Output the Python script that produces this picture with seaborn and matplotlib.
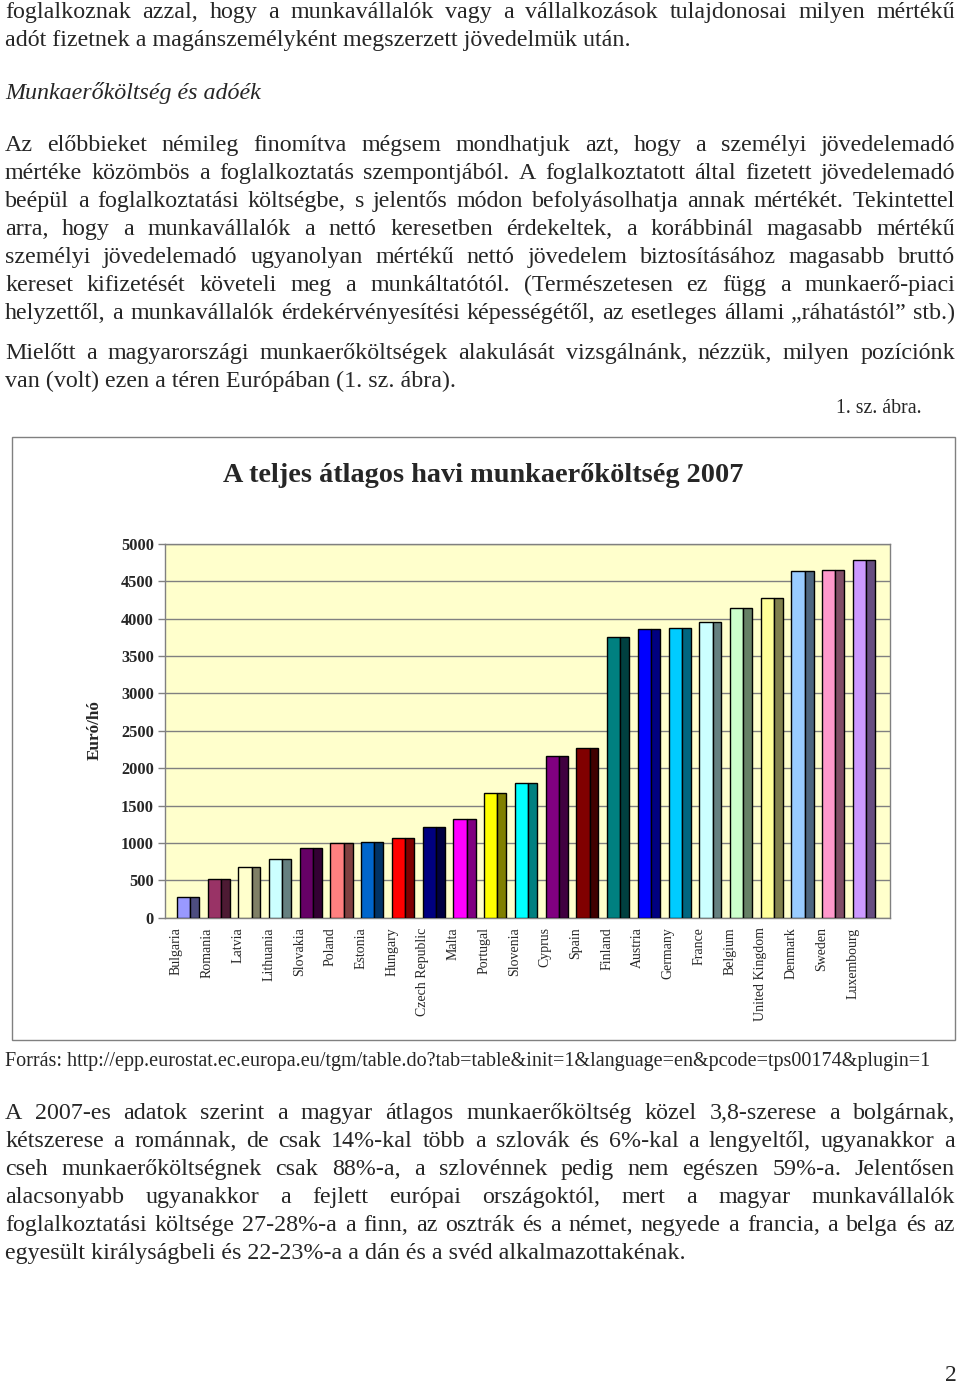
import numpy as np
import matplotlib
matplotlib.use("Agg")
import matplotlib.pyplot as plt
from matplotlib.transforms import ScaledTranslation
from matplotlib.patches import Rectangle
import seaborn as sns

countries = ['Bulgaria', 'Romania', 'Latvia', 'Lithuania', 'Slovakia', 'Poland',
             'Estonia', 'Hungary', 'Czech Republic', 'Malta', 'Portugal', 'Slovenia',
             'Cyprus', 'Spain', 'Finland', 'Austria', 'Germany', 'France', 'Belgium',
             'United Kingdom', 'Denmark', 'Sweden', 'Luxembourg']
costs = [280, 515, 680, 790, 935, 1000, 1010, 1060, 1210, 1325, 1675, 1800,
         2165, 2270, 3760, 3860, 3870, 3960, 4140, 4280, 4640, 4650, 4780]
colors = ['#9999FF', '#993366', '#FFFFCC', '#CCFFFF', '#660066', '#FF8080',
          '#0066CC', '#FF0000', '#000080', '#FF00FF', '#FFFF00', '#00FFFF',
          '#800080', '#800000', '#008080', '#0000FF', '#00CCFF', '#CCFFFF',
          '#CCFFCC', '#FFFF99', '#99CCFF', '#FF99CC', '#CC99FF']
yticks = [0, 500, 1000, 1500, 2000, 2500, 3000, 3500, 4000, 4500, 5000]

title = 'A teljes átlagos havi munkaerőköltség 2007'
ylabel = 'Euró/hó'

top_lines = [
    ('foglalkoznak azzal, hogy a munkavállalók vagy a vállalkozások tulajdonosai milyen mértékű', 18, True, 'normal'),
    ('adót fizetnek a magánszemélyként megszerzett jövedelmük után.', 46, False, 'normal'),
    ('Munkaerőköltség és adóék', 99, False, 'italic'),
    ('Az előbbieket némileg finomítva mégsem mondhatjuk azt, hogy a személyi jövedelemadó', 151, True, 'normal'),
    ('mértéke közömbös a foglalkoztatás szempontjából. A foglalkoztatott által fizetett jövedelemadó', 179, True, 'normal'),
    ('beépül a foglalkoztatási költségbe, s jelentős módon befolyásolhatja annak mértékét. Tekintettel', 207, True, 'normal'),
    ('arra, hogy a munkavállalók a nettó keresetben érdekeltek, a korábbinál magasabb mértékű', 235, True, 'normal'),
    ('személyi jövedelemadó ugyanolyan mértékű nettó jövedelem biztosításához magasabb bruttó', 263, True, 'normal'),
    ('kereset kifizetését követeli meg a munkáltatótól. (Természetesen ez függ a munkaerő-piaci', 291, True, 'normal'),
    ('helyzettől, a munkavállalók érdekérvényesítési képességétől, az esetleges állami „ráhatástól” stb.)', 319, True, 'normal'),
    ('Mielőtt a magyarországi munkaerőköltségek alakulását vizsgálnánk, nézzük, milyen pozíciónk', 359, True, 'normal'),
    ('van (volt) ezen a téren Európában (1. sz. ábra).', 387, False, 'normal'),
]
bottom_lines = [
    ('A 2007-es adatok szerint a magyar átlagos munkaerőköltség közel 3,8-szerese a bolgárnak,', 1119, True),
    ('kétszerese a románnak, de csak 14%-kal több a szlovák és 6%-kal a lengyeltől, ugyanakkor a', 1147, True),
    ('cseh munkaerőköltségnek csak 88%-a, a szlovénnek pedig nem egészen 59%-a. Jelentősen', 1175, True),
    ('alacsonyabb ugyanakkor a fejlett európai országoktól, mert a magyar munkavállalók', 1203, True),
    ('foglalkoztatási költsége 27-28%-a a finn, az osztrák és a német, negyede a francia, a belga és az', 1231, True),
    ('egyesült királyságbeli és 22-23%-a a dán és a svéd alkalmazottakénak.', 1259, False),
]
source = 'Forrás: http://epp.eurostat.ec.europa.eu/tgm/table.do?tab=table&init=1&language=en&pcode=tps00174&plugin=1'

W, H = 960, 1384
BODY = 17.3

sns.set_theme(style='white')
plt.rcParams['font.family'] = ['Liberation Serif', 'DejaVu Serif']

fig = plt.figure(figsize=(W / 100, H / 100), dpi=100)
fig.patch.set_facecolor('white')
renderer = fig.canvas.get_renderer()


def px(x):
    return x / W


def py(y):
    return 1 - y / H


def put_line(text, y, justify, style='normal', x0=5, x1=955, size=BODY):
    if not justify:
        fig.text(px(x0), py(y), text, fontsize=size, style=style, va='baseline', ha='left')
        return
    words = text.split(' ')
    objs = [fig.text(0, py(y), w, fontsize=size, style=style, va='baseline', ha='left') for w in words]
    widths = [o.get_window_extent(renderer).width for o in objs]
    gap = (x1 - x0 - sum(widths)) / (len(words) - 1)
    x = x0
    for o, w in zip(objs, widths):
        o.set_x(px(x))
        x += w + gap


for text, y, j, st in top_lines:
    put_line(text, y, j, st)
fig.text(px(922), py(413), '1. sz. ábra.', fontsize=14.3, ha='right', va='baseline')

# chart frame
fig.patches.append(Rectangle((px(12), py(1040)), px(955) - px(12), py(437) - py(1040),
                             transform=fig.transFigure, fill=False, edgecolor='#808080', linewidth=1))
fig.text(px(483), py(475), title, fontsize=20.3, fontweight='bold', ha='center', va='center')

ax = fig.add_axes([px(165), py(917.7), px(890) - px(165), py(544) - py(917.7)])
ax.set_facecolor('#FFFFCC')

front_w, side_w = 0.43, 0.29
sns.barplot(x=countries, y=costs, hue=countries, palette=colors, width=front_w,
            saturation=1, edgecolor='black', linewidth=1, legend=False, ax=ax, zorder=3)
side_colors = [tuple(np.array(matplotlib.colors.to_rgb(c)) * 0.5) for c in colors]
xs = np.arange(len(countries))
ax.bar(xs + front_w / 2 + side_w / 2, costs, width=side_w, color=side_colors,
       edgecolor='black', linewidth=1, zorder=3)

ax.set_xlim(-0.6, 22.99)
ax.set_ylim(0, 5000)
ax.set_yticks(yticks)
ax.set_yticklabels([str(v) for v in yticks], fontsize=11.8, fontweight='bold')
ax.yaxis.grid(True, color='#808080', linewidth=1, zorder=0)
ax.set_axisbelow(True)
ax.tick_params(axis='y', length=5, width=1, color='#808080', pad=3, left=True)
ax.tick_params(axis='x', length=0, pad=7)
ax.set_xticks(xs)
ax.set_xticklabels(countries, rotation=90, fontsize=10, va='top', ha='center')
shift = ScaledTranslation(-7 / 100, 0, fig.dpi_scale_trans)
for lab in ax.get_xticklabels():
    lab.set_transform(lab.get_transform() + shift)
ax.set_xlabel('')
ax.set_ylabel('')
for s in ax.spines.values():
    s.set_color('#808080')
    s.set_linewidth(1)
fig.text(px(95), py(730), ylabel, fontsize=12.3, fontweight='bold', rotation=90, ha='center', va='center')

fig.text(px(5), py(1066), source, fontsize=14.5, ha='left', va='baseline')
for text, y, j in bottom_lines:
    put_line(text, y, j)
fig.text(px(957), py(1381), '2', fontsize=17, ha='right', va='baseline')

fig.savefig('out.png', dpi=100, facecolor='white')
